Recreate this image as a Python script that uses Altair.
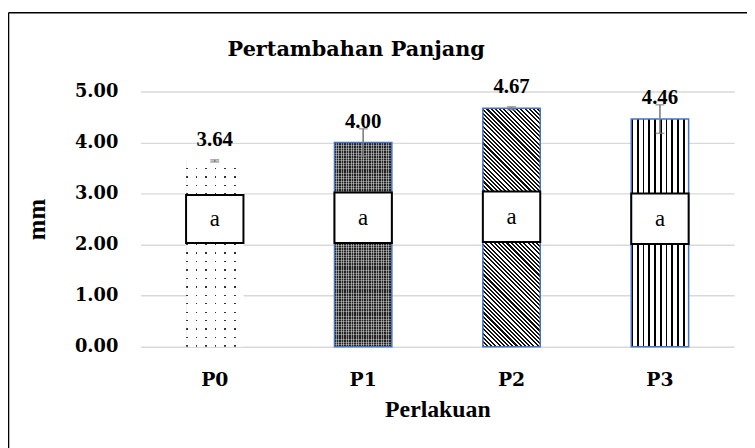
import altair as alt
import pandas as pd

# ---- data ----
categories = ["P0", "P1", "P2", "P3"]
means = [3.64, 4.00, 4.67, 4.46]
errors = [0.02, 0.27, 0.03, 0.28]
letters = ["a", "a", "a", "a"]
box_low = [2.03, 2.03, 2.05, 2.01]
box_high = [2.97, 3.02, 3.04, 3.00]
chart_title = "Pertambahan Panjang"

df = pd.DataFrame({
    "cat": categories, "value": means, "err": errors,
    "letter": letters, "blo": box_low, "bhi": box_high,
})

# ---- layout constants ----
W, H = 600, 258
BAR = 58
UNIT = H / 5.0
BLUE = "#4472C4"


def stripes(n, frac, ink, paper, x1, y1, x2, y2):
    stops = []
    for k in range(n):
        s = k / n
        e = (k + frac) / n
        stops += [{"offset": s, "color": ink}, {"offset": e, "color": ink},
                  {"offset": e, "color": paper}, {"offset": (k + 1) / n, "color": paper}]
    return {"gradient": "linear", "x1": x1, "y1": y1, "x2": x2, "y2": y2, "stops": stops}


def diagonal(value, period, frac):
    h = value * UNIT
    a = BAR / h
    k = (a + 1) / (a * a + 1)
    L = (BAR + h) / 2 ** 0.5
    n = int(round(L / period))
    return stripes(n, frac, "#111111", "#ffffff", 0, 1, k * a, 1 - k)


fills = {
    "P0": [stripes(6, 0.17, "#333333", "#ffffff", 0, 0, 1, 0),
           stripes(22, 0.84, "#ffffff", "rgba(255,255,255,0)", 0, 0, 0, 1)],
    "P1": [stripes(23, 0.55, "#222222", "#8a8a8a", 0, 0, 1, 0),
           stripes(80, 0.35, "rgba(255,255,255,0.35)", "rgba(255,255,255,0)", 0, 0, 0, 1)],
    "P2": [diagonal(means[2], 3.0, 0.5)],
    "P3": [stripes(10, 0.3, "#000000", "#ffffff", 0, 0, 1, 0)],
}

x_axis = alt.Axis(labelAngle=0, domain=False, ticks=False, labelPadding=24,
                  labelFont="DejaVu Serif", labelFontWeight="bold", labelFontSize=19,
                  labelColor="#000000", titleFont="Liberation Serif", titleFontWeight="bold",
                  titleFontSize=24, titleColor="#000000", titlePadding=9, grid=False)
y_axis = alt.Axis(values=[0, 1, 2, 3, 4, 5], format=".2f", domain=False, ticks=False,
                  labelPadding=23, labelFont="DejaVu Serif", labelFontWeight="bold",
                  labelFontSize=18, labelColor="#000000", grid=True, gridColor="#d9d9d9",
                  gridWidth=1.4, titleFont="Liberation Serif", titleFontWeight="bold",
                  titleFontSize=25, titleColor="#000000", titlePadding=25)

xs = alt.Scale(domain=categories, paddingInner=0, paddingOuter=0)
ys = alt.Scale(domain=[0, 5], nice=False)


def xenc():
    return alt.X("cat:N", scale=xs, axis=x_axis, title="Perlakuan")


def yenc(field):
    return alt.Y(field, scale=ys, axis=y_axis, title="mm")


base = alt.Chart(df)

layers = []
for c in categories:
    for i, f in enumerate(fills[c]):
        stroke_kw = {}
        if c != "P0" and i == len(fills[c]) - 1:
            stroke_kw = {"stroke": BLUE, "strokeWidth": 1.5}
        layers.append(base.transform_filter(alt.datum.cat == c)
                      .mark_bar(size=BAR, fill=f, **stroke_kw)
                      .encode(x=xenc(), y=yenc("value:Q")))

err = base.transform_calculate(lo="datum.value - datum.err", hi="datum.value + datum.err")
err_rule = err.mark_rule(color="#7f7f7f", strokeWidth=1.6).encode(
    x=xenc(), y=yenc("lo:Q"), y2="hi:Q")
cap_lo = err.mark_tick(color="#7f7f7f", size=9, thickness=1.6).encode(
    x=xenc(), y=yenc("lo:Q"))
cap_hi = err.mark_tick(color="#7f7f7f", size=9, thickness=1.6).encode(
    x=xenc(), y=yenc("hi:Q"))

labels = base.mark_text(font="Liberation Serif", fontWeight="bold", fontSize=21,
                        baseline="alphabetic", dy=-15, color="#000000").encode(
    x=xenc(), y=yenc("value:Q"), text=alt.Text("value:Q", format=".2f"))

boxes = base.mark_bar(size=BAR, fill="#ffffff", stroke="#000000", strokeWidth=2).encode(
    x=xenc(), y=yenc("blo:Q"), y2="bhi:Q")
box_text = base.transform_calculate(mid="(datum.blo + datum.bhi) / 2").mark_text(
    font="Liberation Serif", fontSize=23, baseline="middle", color="#000000").encode(
    x=xenc(), y=yenc("mid:Q"), text="letter:N")

one = alt.Chart(pd.DataFrame({"t": [chart_title]}))
title_mark = one.mark_text(font="DejaVu Serif", fontWeight="bold", fontSize=21,
                           baseline="alphabetic", align="center", color="#000000").encode(
    x=alt.value(218), y=alt.value(-36), text="t:N")
frame_v = one.mark_rule(color="#000000", strokeWidth=1.6).encode(
    x=alt.value(-133.5), y=alt.value(-79.5), y2=alt.value(400))
frame_h = one.mark_rule(color="#000000", strokeWidth=1.6).encode(
    x=alt.value(-133.5), x2=alt.value(640), y=alt.value(-79.5))

chart = alt.layer(*layers, err_rule, cap_lo, cap_hi, labels, boxes, box_text,
                  title_mark, frame_v, frame_h).properties(
    width=W, height=H,
    autosize=alt.AutoSizeParams(type="none"),
    padding={"left": 134, "top": 82, "right": 13, "bottom": 100},
).configure(background="#ffffff", view=alt.ViewConfig(stroke=None))

chart.save("out.html", embed_options={"renderer": "svg", "actions": False})
